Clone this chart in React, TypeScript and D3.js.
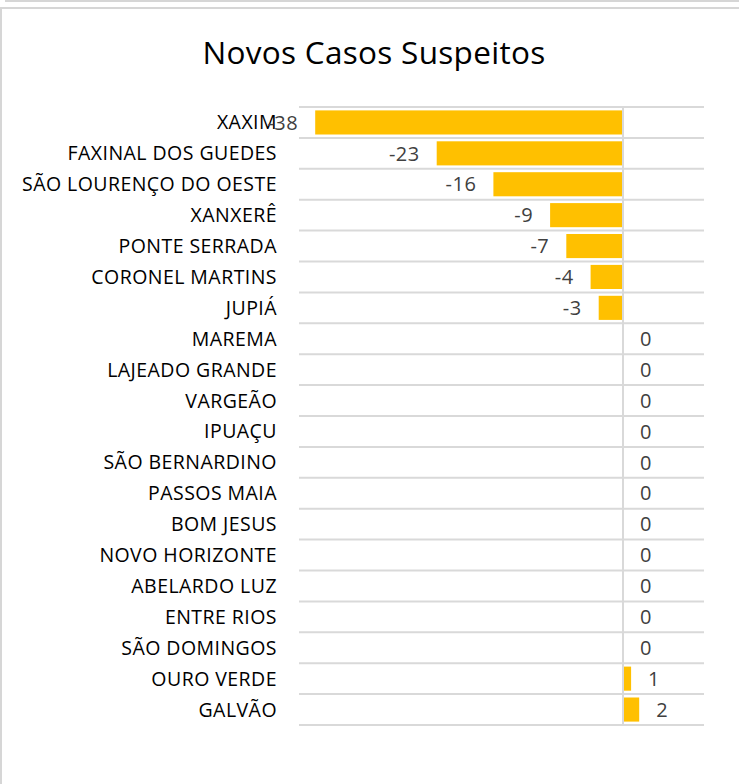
import React from "react";
import * as d3 from "d3";

const categories = [
  "XAXIM", "FAXINAL DOS GUEDES", "SÃO LOURENÇO DO OESTE", "XANXERÊ", "PONTE SERRADA",
  "CORONEL MARTINS", "JUPIÁ", "MAREMA", "LAJEADO GRANDE", "VARGEÃO", "IPUAÇU",
  "SÃO BERNARDINO", "PASSOS MAIA", "BOM JESUS", "NOVO HORIZONTE", "ABELARDO LUZ",
  "ENTRE RIOS", "SÃO DOMINGOS", "OURO VERDE", "GALVÃO",
];
const values = [-38, -23, -16, -9, -7, -4, -3, 0, 0, 0, 0, 0, 0, 0, 0, 0, 0, 0, 1, 2];
const xDomain = [-40, 10];
const title = "Novos Casos Suspeitos";

const W = 739;
const H = 784;
const FONT = "'Open Sans', 'Noto Sans', sans-serif";

export default function App() {
  const x = d3.scaleLinear().domain(xDomain).range([299, 704]);
  const y = d3.scaleBand<string>().domain(categories).range([107, 725]).paddingInner(0.22).paddingOuter(0.11);
  const step = y.step();
  const gridYs = d3.range(categories.length + 1).map((i) => 107 + i * step);
  const x0 = x(0);
  return (
    <svg width={W} height={H} style={{ position: "absolute", left: 0, top: 0 }} fontFamily={FONT}>
      <rect x={0} y={0} width={W} height={H} fill="#fff" />
      <line x1={5} x2={W} y1={1} y2={1} stroke="#d6d6d6" strokeWidth={2} />
      <line x1={0} x2={W} y1={8} y2={8} stroke="#d6d6d6" strokeWidth={2} />
      <line x1={1} x2={1} y1={8} y2={H} stroke="#d6d6d6" strokeWidth={2} />
      <text x={374} y={64} textAnchor="middle" fontSize={31.5} letterSpacing={0.3} fill="#000">{title}</text>
      {gridYs.map((gy, i) => (
        <line key={i} x1={299} x2={704} y1={gy} y2={gy} stroke="#d9d9d9" strokeWidth={2} />
      ))}
      {categories.map((c, i) => {
        const v = values[i];
        const by = y(c)!;
        const bx = Math.min(x(v), x0);
        const bw = Math.abs(x(v) - x0);
        return <rect key={c} x={bx} y={by} width={bw} height={y.bandwidth()} fill="#FFC000" />;
      })}
      <line x1={x0} x2={x0} y1={107} y2={725} stroke="#d9d9d9" strokeWidth={2} />
      {categories.map((c, i) => {
        const cy = y(c)! + y.bandwidth() / 2;
        return (
          <text key={c} x={277} y={cy} dy="0.36em" textAnchor="end" fontSize={19.5} letterSpacing={0.45} fill="#000">{c}</text>
        );
      })}
      {categories.map((c, i) => {
        const v = values[i];
        const cy = y(c)! + y.bandwidth() / 2;
        const neg = v < 0;
        return (
          <text key={c} x={neg ? x(v) - 17 : x(v) + 17} y={cy} dy="0.36em" textAnchor={neg ? "end" : "start"} fontSize={20} letterSpacing={0.5} fill="#404040">{v}</text>
        );
      })}
    </svg>
  );
}
